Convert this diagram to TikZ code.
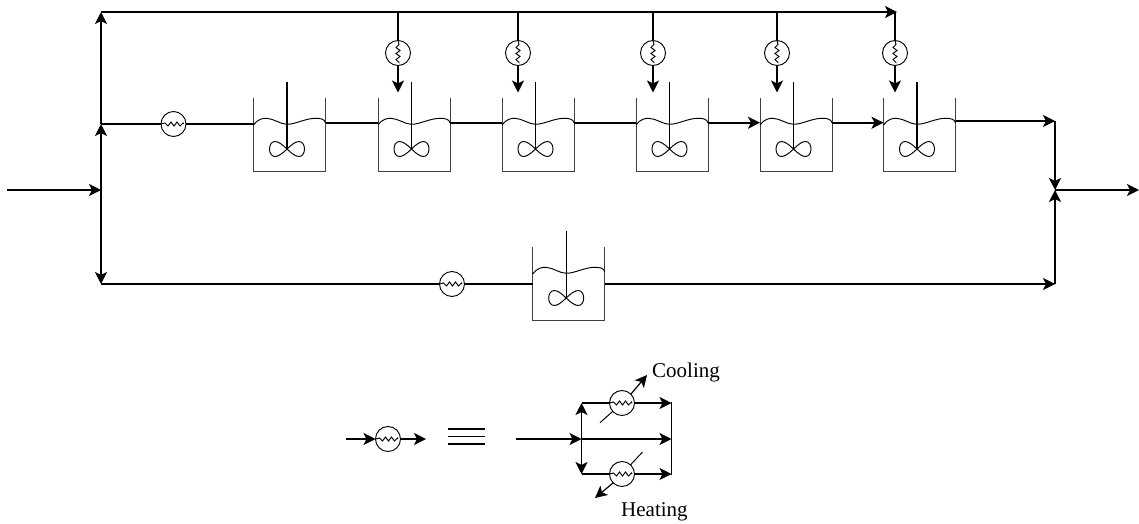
\documentclass[tikz,border=0pt]{standalone}
\usepackage{fontspec}
\setmainfont{Liberation Serif}
\usetikzlibrary{arrows.meta,calc}
\tikzset{
  x=1pt,y=-1pt,
  pipe/.style={line width=1.7pt,line cap=butt},
  flow/.style={pipe,-{Stealth[length=12pt,width=12pt,inset=3pt]}},
  thinline/.style={line width=0.95pt,black!75},
  hxnode/.style={circle,draw,line width=0.95pt,fill=white,minimum size=25pt,inner sep=0pt,outer sep=0pt},
  tanknode/.style={rectangle,minimum width=72pt,minimum height=73pt,inner sep=0pt,outer sep=0pt},
  lab/.style={font=\fontsize{21}{24}\selectfont,inner sep=0pt,anchor=base west},
}
% horizontal exchanger: name, x, y
\newcommand{\hxh}[3]{%
  \node[hxnode] (#1) at (#2,#3) {};
  \draw[line width=0.95pt] ($(#1)+(-12.5,0)$) -- ++(4,-1) -- ++(3,3) -- ++(3,-4) -- ++(3,4) -- ++(3,-4) -- ++(3,4) -- ++(3,-3) -- ++(0.5,1);
}
% vertical exchanger: name, x, y
\newcommand{\hxv}[3]{%
  \node[hxnode] (#1) at (#2,#3) {};
  \draw[line width=0.95pt] ($(#1)+(0,-12.5)$) -- ++(1,4) -- ++(-3,3) -- ++(4,3) -- ++(-4,3) -- ++(4,3) -- ++(-4,3) -- ++(3,3) -- ++(0,-1);
}
% stirred tank: name, left x, top y
\newcommand{\tankunit}[3]{%
  \node[tanknode,anchor=north west] (#1) at (#2,#3) {};
  \draw[thinline] (#1.north west) -- (#1.south west) -- (#1.south east) -- (#1.north east);
  \begin{scope}[shift={(#2,#3)}]
    \coordinate (#1l) at (0,24.7);
    \coordinate (#1r) at (72,24.7);
    \draw[line width=0.95pt] (0,27) .. controls (4,21) and (10,20) .. (13,20.3)
       .. controls (20,20.5) and (27,26.3) .. (33.5,26.3)
       .. controls (42,26.3) and (52,20.3) .. (62,20.3)
       .. controls (67,20.3) and (71,21) .. (72,24.7);
    \draw[line width=1.4pt] (33.5,-16) -- (33.5,51);
    \begin{scope}[shift={(33.5,51)}]
      \draw[line width=0.95pt] (0,0) .. controls (-5,-5) and (-9,-7.5) .. (-12,-7.5)
        .. controls (-15.5,-7.5) and (-17.5,-4) .. (-17.5,0)
        .. controls (-17.5,4) and (-15.5,7.5) .. (-12,7.5)
        .. controls (-9,7.5) and (-5,5) .. (0,0)
        .. controls (5,-5) and (9,-7.5) .. (12,-7.5)
        .. controls (15.5,-7.5) and (17.5,-4) .. (17.5,0)
        .. controls (17.5,4) and (15.5,7.5) .. (12,7.5)
        .. controls (9,7.5) and (5,5) .. (0,0);
    \end{scope}
  \end{scope}
}
\begin{document}
\begin{tikzpicture}
\useasboundingbox (0,0) rectangle (1139,523);
% junctions
\coordinate (in) at (7,190);
\coordinate (jm) at (101,190);
\coordinate (jb) at (101,284);
\coordinate (ja) at (101,124);
\coordinate (jt) at (101,12);
\coordinate (te) at (897,12);
\coordinate (rt) at (1055,121);
\coordinate (rb) at (1055,284);
\coordinate (rm) at (1055,190);
\coordinate (out) at (1139,190);
% tanks
\tankunit{ta}{253.5}{98}
\tankunit{tb}{378}{98}
\tankunit{tc}{502}{98}
\tankunit{td}{636}{98}
\tankunit{te1}{760}{98}
\tankunit{tf}{883.5}{98}
\tankunit{tg}{532.7}{247}
% exchangers
\hxh{ha}{173.5}{124}
\hxh{hg}{452}{284}
\foreach \n/\x in {1/398,2/518,3/653,4/777,5/895}{
  \coordinate (bt\n) at (\x,12);
  \coordinate (bd\n) at (\x,92.5);
  \hxv{hv\n}{\x}{53}
  \draw[pipe] (bt\n) -- (hv\n.north);
  \draw[flow] (hv\n.south) -- (bd\n);
}
% main lines
\draw[flow] (in) -- (jm);
\draw[flow] (jm) -- (ja);
\draw[flow] (jm) -- (jb);
\draw[flow] (ja) -- (jt);
\draw[flow] (jt) -- (te);
\draw[pipe] (ja) -- (ha);
\draw[pipe] (ha) -- (ta.west |- ha);
\draw[pipe] (tar) -- (tbl);
\draw[pipe] (tbr) -- (tcl);
\draw[pipe] (tcr) -- (tdl);
\draw[flow] (tdr) -- (te1l);
\draw[flow] (te1r) -- (tfl);
\draw[flow] (tf.east |- rt) -- (rt);
\draw[flow] (rt) -- (rm);
\draw[flow] (rb) -- (rm);
\draw[flow] (rm) -- (out);
\draw[pipe] (jb) -- (hg);
\draw[pipe] (hg) -- (tg.west |- hg);
\draw[flow] (tg.east |- rb) -- (rb);
% legend left
\coordinate (la) at (346,439);
\coordinate (lb) at (426,439);
\hxh{hl}{388}{439}
\draw[flow] (la) -- (hl);
\draw[flow] (hl) -- (lb);
\coordinate (e1a) at (448,429); \coordinate (e1b) at (485,429);
\coordinate (e2a) at (448,436.5); \coordinate (e2b) at (485,436.5);
\coordinate (e3a) at (448,444); \coordinate (e3b) at (485,444);
\draw[pipe] (e1a) -- (e1b);
\draw[pipe] (e2a) -- (e2b);
\draw[pipe] (e3a) -- (e3b);
% legend right
\coordinate (sin) at (516,439);
\coordinate (sj) at (581.5,439);
\coordinate (sjt) at (581.5,403);
\coordinate (sjb) at (581.5,474);
\coordinate (srt) at (671.5,403);
\coordinate (srm) at (671.5,439);
\coordinate (srb) at (671.5,474);
\draw[flow] (sin) -- (sj);
\draw[flow] (sj) -- (sjt);
\draw[flow] (sj) -- (sjb);
\draw[flow] (sj) -- (srm);
\hxh{hc}{622}{403}
\hxh{hh}{622}{474}
\draw[pipe] (sjt) -- (hc);
\draw[pipe] (sjb) -- (hh);
\draw[flow] (hc) -- (srt);
\draw[flow] (hh) -- (srb);
\draw[pipe] (srt) ++(0,-1) -- ($(srb)+(0,1)$);
\coordinate (cs) at (600,422.7);
\coordinate (ce) at (647,375);
\coordinate (hs) at (642.5,452);
\coordinate (he) at (595,498);
\draw[line width=0.95pt] (cs) -- (hc);
\draw[line width=0.95pt] (hs) -- (hh);
\draw[line width=1.2pt,-{Stealth[length=12pt,width=12pt,inset=3pt]}] (hc.45) -- (ce);
\draw[line width=1.2pt,-{Stealth[length=12pt,width=12pt,inset=3pt]}] (hh.225) -- (he);
\node[lab] (cool) at (652,377) {Cooling};
\node[lab] (heat) at (621,516) {Heating};
\end{tikzpicture}
\end{document}
